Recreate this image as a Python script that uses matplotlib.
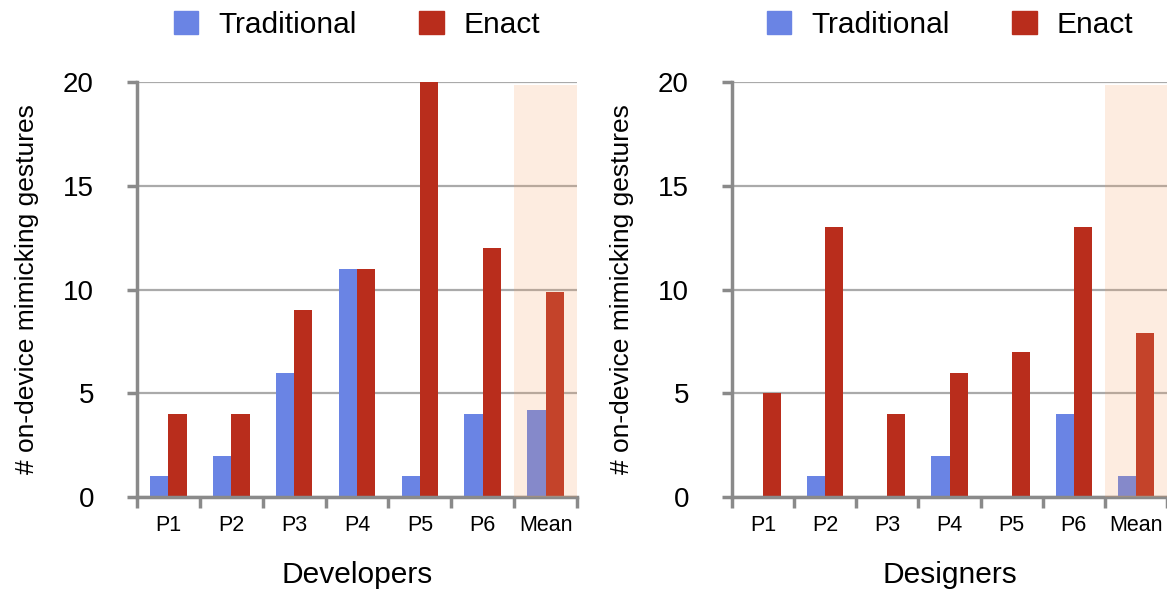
import numpy as np
import matplotlib
matplotlib.use("Agg")
from matplotlib import pyplot as plt
from matplotlib.patches import Patch

plt.rcParams['font.family'] = ['Liberation Sans', 'DejaVu Sans']

categories = ["P1", "P2", "P3", "P4", "P5", "P6", "Mean"]
dev_traditional = [1, 2, 6, 11, 1, 4, 4.17]
dev_enact = [4, 4, 9, 11, 20, 12, 9.9]
des_traditional = [0, 1, 0, 2, 0, 4, 1]
des_enact = [5, 13, 4, 6, 7, 13, 7.9]

blue = "#6A84E4"
red = "#B92D1C"
gray = "#8A8A8A"

fig = plt.figure(figsize=(11.67, 5.92), dpi=100)
ax1 = fig.add_axes([137 / 1167, 1 - 497 / 592, 440 / 1167, 415 / 592])
ax2 = fig.add_axes([732 / 1167, 1 - 497 / 592, 435 / 1167, 415 / 592])

x = np.arange(len(categories))
w = 0.29

for ax, trad, enact, xl in [(ax1, dev_traditional, dev_enact, "Developers"),
                            (ax2, des_traditional, des_enact, "Designers")]:
    ax.bar(x - w / 2, trad, w, color=blue, zorder=2)
    ax.bar(x + w / 2, enact, w, color=red, zorder=2)
    # shaded overlay for the mean column
    ax.axvspan(5.5, 6.5, ymin=0, ymax=19.85 / 20, color="#F5A064", alpha=0.2,
               lw=0, zorder=5)
    ax.set_xlim(-0.5, 6.5)
    ax.set_ylim(0, 20)
    ax.set_yticks([0, 5, 10, 15, 20])
    ax.yaxis.grid(True, color="#AAAAAA", lw=1.6, zorder=1)
    ax.set_axisbelow(True)
    ax.set_xticks(np.arange(-0.5, 7, 1))
    ax.set_xticklabels([])
    ax.set_xticks(x, minor=True)
    ax.set_xticklabels(categories, minor=True, fontsize=15.5)
    ax.tick_params(axis='x', which='major', direction='out', length=8,
                   width=2.5, color=gray)
    ax.tick_params(axis='x', which='minor', length=0, pad=13)
    ax.tick_params(axis='y', direction='out', length=7, width=2.5,
                   color=gray, labelsize=20, pad=24)
    for s in ["top", "right"]:
        ax.spines[s].set_visible(False)
    for s in ["left", "bottom"]:
        ax.spines[s].set_color(gray)
        ax.spines[s].set_linewidth(2.5)
    ax.set_xlabel(xl, fontsize=21.5, labelpad=18)
    ax.set_ylabel("# on-device mimicking gestures", fontsize=19, labelpad=17)

handles = [Patch(color=blue, label="Traditional"), Patch(color=red, label="Enact")]
for cx in [357 / 1167, 950 / 1167]:
    fig.legend(handles=handles, loc="center", bbox_to_anchor=(cx, 1 - 25 / 592),
               ncol=2, frameon=False, fontsize=21.5, handlelength=0.82,
               handleheight=0.82, handletextpad=0.66, columnspacing=2.1)

fig.savefig("out.png", dpi=100)
